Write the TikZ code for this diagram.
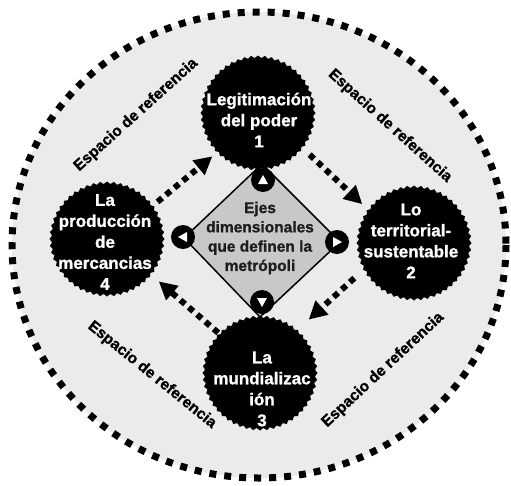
\documentclass[tikz,border=0pt]{standalone}
\usepackage{fontspec}
\setmainfont{Liberation Sans}[BoldFeatures={FakeBold=1.2}]
\usetikzlibrary{shapes.geometric,arrows.meta}
\definecolor{ellfill}{HTML}{EBEBEB}
\definecolor{diafill}{HTML}{C8C8C8}
\definecolor{diatext}{HTML}{1E1E1E}
\begin{document}
\begin{tikzpicture}[x=1pt,y=-1pt,
  outerell/.style={fill=ellfill, draw=black, line width=7pt, dash pattern=on 7pt off 8pt},
  burst/.style={star, star points=52, star point ratio=1.045, fill=black, draw=none, minimum size=115pt, inner sep=0pt},
  ctext/.style={text=white, font=\bfseries\fontsize{17}{21}\selectfont, align=center, inner sep=0pt},
  diastyle/.style={fill=diafill, draw=black, line width=1.5pt, line join=miter},
  dtext/.style={text=diatext, font=\bfseries\fontsize{15.5}{19.3}\selectfont, align=center, inner sep=0pt},
  vcirc/.style={circle, fill=black, minimum size=24pt, inner sep=0pt},
  vtri/.pic={\fill[white] (5,0) -- (-4,5) -- (-4,-5) -- cycle;},
  dotarrow/.style={line width=6pt, dash pattern=on 6pt off 5pt, -{Triangle[length=18pt,width=18pt]}},
  lab/.style={font=\bfseries\fontsize{15.5}{18}\selectfont, text=black, inner sep=0pt}
]
\useasboundingbox (0,0) rectangle (511,485);
\fill[white] (0,0) rectangle (511,485);
\draw[outerell] (259,245) ellipse [x radius=247, y radius=233];

% diamond
\draw[diastyle] (262,164) -- (340,242) -- (260,317) -- (184,238) -- cycle;
\node[dtext] (dt) at (260,238) {Ejes\\dimensionales\\que definen la\\metrópoli};

% vertex markers
\node[vcirc] (v1) at (263,180) {};
\node[vcirc] (v2) at (337,242) {};
\node[vcirc] (v3) at (262,302) {};
\node[vcirc] (v4) at (183,237) {};
\pic[rotate=90] at (v1) {vtri};
\pic[rotate=0] at (v2) {vtri};
\pic[rotate=-90] at (v3) {vtri};
\pic[rotate=180] at (v4) {vtri};

% bursts
\node[burst] (c1) at (258,113) {};
\node[burst] (c2) at (414,243) {};
\node[burst] (c3) at (260,373) {};
\node[burst] (c4) at (107,239) {};
\node[ctext] (t1) at (259,120) {Legitimación\\del poder\\1};
\node[ctext] (t2) at (411,241) {Lo\\territorial-\\sustentable\\2};
\node[ctext] (t3) at (262,389) {La\\mundializac\\ión\\3};
\node[ctext] (t4) at (105,242) {La\\producción\\de\\mercancias\\4};

% arrows
\draw[dotarrow, shorten <=6pt, shorten >=7pt] (c4.36) -- (c1.224);
\draw[dotarrow, shorten <=11pt, shorten >=8pt] (c1.322) -- (c2.144);
\draw[dotarrow, shorten <=12pt, shorten >=15pt] (c2.208) -- (c3.49);
\draw[dotarrow, shorten <=2pt, shorten >=11pt] (c3.136) -- (c4.321);

% labels
\node[lab, rotate=42] (l1) at (136,115) {Espacio de referencia};
\node[lab, rotate=-42] (l2) at (390,126) {Espacio de referencia};
\node[lab, rotate=-39] (l3) at (152,375) {Espacio de referencia};
\node[lab, rotate=43] (l4) at (383,370) {Espacio de referencia};
\end{tikzpicture}
\end{document}
